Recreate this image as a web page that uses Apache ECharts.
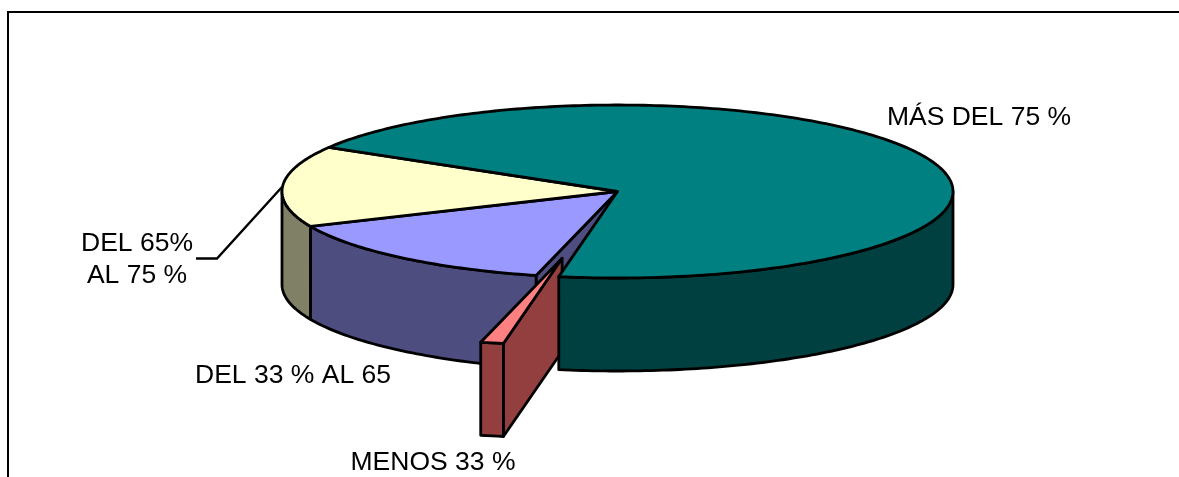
<!DOCTYPE html>
<html><head><meta charset="utf-8">
<style>html,body{margin:0;padding:0;background:#fff}#c{width:1179px;height:477px}</style>
<script src="https://cdn.jsdelivr.net/npm/echarts@6/dist/echarts.min.js"></script>
</head><body><div id="c"></div>
<script>
const categories = ['MÁS DEL 75 %', 'MENOS 33 %', 'DEL 33 % AL 65', 'DEL 65%\nAL 75 %'];
const values = [69.3, 1.1, 14.5, 15.1];
const topColors = ['#008080', '#FF8080', '#9999FF', '#FFFFCC'];
const sideColors = ['#004040', '#933F3F', '#4D4D80', '#808066'];
const explode = [0, 0.79, 0, 0];
const labelX = [979, 433, 293, 137];
const labelY = [118, 463, 376, 260];

const CX = 617.5, CY = 191.5, RX = 335.5, RY = 86.5, DEPTH = 93, START = 300.6;
const total = values.reduce((a, b) => a + b, 0);
const starts = [];
values.reduce((acc, v, i) => { starts[i] = acc; return acc + v / total * 360; }, START);

function pt(deg, r, ox, oy, d) {
  const t = deg * Math.PI / 180;
  return [CX + ox + RX * r * Math.sin(t), CY + oy - RY * r * Math.cos(t) + (d || 0)];
}
function arc(a, b, ox, oy, d) {
  const out = [], n = Math.max(2, Math.ceil(Math.abs(b - a)));
  for (let i = 0; i <= n; i++) out.push(pt(a + (b - a) * i / n, 1, ox, oy, d));
  return out;
}
function poly(points, fill, z2) {
  return { type: 'polygon', z2, silent: true, shape: { points },
    style: { fill, stroke: '#000', lineWidth: 2.8, lineJoin: 'round' } };
}
// slice draw depth: purple & yellow, then the exploded slice, then teal on top
const layer = [30, 20, 10, 10];

function renderItem(params, api) {
  const i = params.dataIndex;
  const sweep = api.value(0) / total * 360;
  const a = starts[i], b = a + sweep, mid = a + sweep / 2;
  const ox = RX * explode[i] * Math.sin(mid * Math.PI / 180);
  const oy = -RY * explode[i] * Math.cos(mid * Math.PI / 180);
  const apex = [CX + ox, CY + oy];
  const z = layer[i];
  const kids = [];
  // inner radial wall, seen where the neighbouring slice has been pulled away
  const norm = d => ((d % 360) + 360) % 360;
  const na = norm(a), nb = na + sweep;
  if (i === 1 || i === 2) {
    const edge = a;
    const p = pt(edge, 1, ox, oy, 0);
    kids.push(poly([apex, p, [p[0], p[1] + DEPTH], [apex[0], apex[1] + DEPTH]], sideColors[i], z));
  }
  // outer wall: only the front half of the rim (90..270 degrees) faces the viewer
  const from = Math.max(na, 90), to = Math.min(nb, 270);
  const from2 = Math.max(na - 360, 90), to2 = Math.min(nb - 360, 270);
  [[from, to], [from2, to2]].forEach(([f, t]) => {
    if (t > f) {
      kids.push(poly(arc(f, t, ox, oy, 0).concat(arc(t, f, ox, oy, DEPTH)), sideColors[i], z + 1));
    }
  });
  // top face
  kids.push(poly([apex].concat(arc(a, b, ox, oy, 0)), topColors[i], z + 2));
  return { type: 'group', children: kids };
}

const chart = echarts.init(document.getElementById('c'), null, { renderer: 'canvas' });
const font = { fontFamily: '"Liberation Sans", Arial, sans-serif', fontSize: 26.5, fill: '#000' };
chart.setOption({
  animation: false,
  backgroundColor: '#fff',
  tooltip: { show: false },
  graphic: [
    { type: 'polyline', silent: true, z: 0,
      shape: { points: [[8, 480], [8, 12], [1182, 12]] },
      style: { stroke: '#000', lineWidth: 2, fill: null } },
    { type: 'polyline', silent: true, z: 0,
      shape: { points: [[282, 187], [217, 258.5], [196, 258.5]] },
      style: { stroke: '#000', lineWidth: 2.4, fill: null } }
  ].concat(categories.map((c, i) => ({
    type: 'text', silent: true, z: 5, x: labelX[i], y: labelY[i],
    style: Object.assign({ text: c, align: 'center', verticalAlign: 'middle', lineHeight: 32 }, font)
  }))),
  series: [{
    type: 'custom',
    coordinateSystem: 'none',
    silent: true,
    clip: false,
    renderItem,
    data: values.map((v, i) => ({ name: categories[i], value: [v] }))
  }]
});
</script></body></html>
